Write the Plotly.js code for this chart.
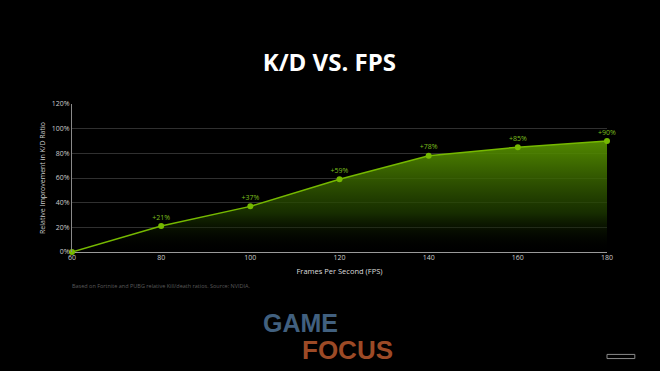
<!DOCTYPE html>
<html>
<head>
<meta charset="utf-8">
<script src="https://cdn.plot.ly/plotly-3.0.1.min.js"></script>
<style>html,body{margin:0;padding:0;background:#000;}#chart{width:660px;height:371px;}</style>
</head>
<body>
<div id="chart"></div>
<script>
const fps = [60, 80, 100, 120, 140, 160, 180];
const improvement = [0, 21, 37, 59, 78, 85, 90];
const pointLabels = ['', '+21%', '+37%', '+59%', '+78%', '+85%', '+90%'];
const yTickVals = [0, 20, 40, 60, 80, 100, 120];
const yTickText = ['0%', '20%', '40%', '60%', '80%', '100%', '120%'];
const xTickVals = [60, 80, 100, 120, 140, 160, 180];

const green = '#76b900';

const traces = [{
  type: 'scatter',
  mode: 'lines+markers+text',
  x: fps,
  y: improvement,
  text: pointLabels,
  textposition: 'top center',
  textfont: {family: 'Open Sans, sans-serif', size: 7, color: '#7cbf1e'},
  line: {color: green, width: 1.5},
  marker: {color: green, size: 6},
  fill: 'tozeroy',
  fillgradient: {
    type: 'vertical',
    colorscale: [[0, 'rgba(0,0,0,0)'], [0.35, 'rgba(30,60,0,0.75)'], [1, 'rgba(90,150,0,0.92)']]
  },
  cliponaxis: false,
  hoverinfo: 'skip'
}];

const layout = {
  width: 660, height: 371,
  paper_bgcolor: '#000', plot_bgcolor: '#000',
  margin: {l: 72, r: 53, t: 104, b: 119},
  showlegend: false,
  title: {
    text: '<b>K/D VS. FPS</b>',
    font: {family: 'Open Sans, sans-serif', size: 24, color: '#ffffff'},
    x: 0.499, xanchor: 'center', y: 0.832, yanchor: 'middle'
  },
  xaxis: {
    range: [60, 180],
    tickvals: xTickVals,
    ticks: '',
    showgrid: false,
    zeroline: false,
    showline: false,
    tickfont: {family: 'Open Sans, sans-serif', size: 7, color: '#cccccc'},
    title: {text: 'Frames Per Second (FPS)', font: {family: 'Open Sans, sans-serif', size: 7.5, color: '#dddddd'}, standoff: 7},
    fixedrange: true
  },
  yaxis: {
    range: [0, 120],
    tickvals: yTickVals,
    ticktext: yTickText,
    ticks: '',
    showgrid: true,
    gridcolor: '#303030',
    gridwidth: 1,
    zeroline: true,
    zerolinecolor: '#9a9a9a',
    zerolinewidth: 1,
    showline: true,
    linecolor: '#8a8a8a',
    linewidth: 1,
    tickfont: {family: 'Open Sans, sans-serif', size: 7, color: '#cccccc'},
    title: {text: 'Relative Improvement in K/D Ratio', font: {family: 'Open Sans, sans-serif', size: 7, color: '#cccccc'}, standoff: 5},
    fixedrange: true
  },
  annotations: [
    {xref: 'paper', yref: 'paper', x: -0.004, y: -0.228, xanchor: 'left', yanchor: 'middle', showarrow: false,
     text: 'Based on Fortnite and PUBG relative Kill/death ratios. Source: NVIDIA.',
     font: {family: 'Open Sans, sans-serif', size: 5.5, color: '#5a5a5a'}},
    {xref: 'paper', yref: 'paper', x: 0.354, y: -0.483, xanchor: 'left', yanchor: 'middle', showarrow: false,
     text: '<b>GAME</b>', font: {family: 'Liberation Sans, Arial, sans-serif', size: 25, color: '#41607f'}},
    {xref: 'paper', yref: 'paper', x: 0.427, y: -0.665, xanchor: 'left', yanchor: 'middle', showarrow: false,
     text: '<b>FOCUS</b>', font: {family: 'Liberation Sans, Arial, sans-serif', size: 26, color: '#9c4a26'}}
  ],
  shapes: [
    {type: 'rect', xref: 'paper', yref: 'paper', x0: 1.0, x1: 1.052, y0: -0.692, y1: -0.72,
     line: {color: '#8a8a8a', width: 1}, fillcolor: 'rgba(0,0,0,0)'}
  ]
};

Plotly.newPlot('chart', traces, layout, {displayModeBar: false, staticPlot: true});
</script>
</body>
</html>
